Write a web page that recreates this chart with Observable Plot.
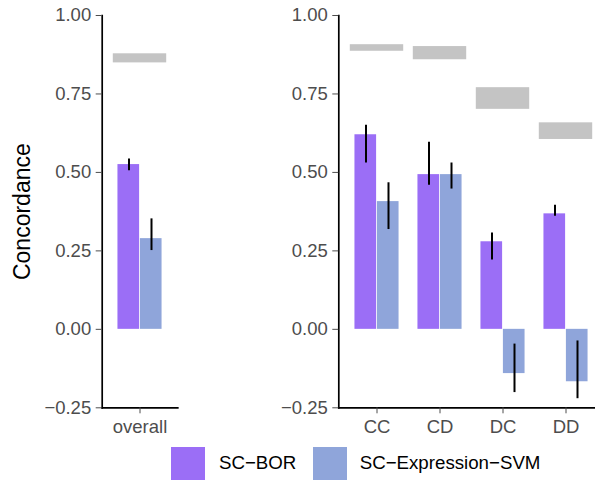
<!DOCTYPE html>
<html>
<head>
<meta charset="utf-8">
<script src="https://cdn.jsdelivr.net/npm/d3@7"></script>
<script src="https://cdn.jsdelivr.net/npm/@observablehq/plot@0.6"></script>
<style>
html, body { margin: 0; padding: 0; background: #fff; }
#wrap { position: relative; width: 595px; height: 480px; overflow: hidden; font-family: "Liberation Sans", Arial, sans-serif; background: #fff; }
#left, #right { position: absolute; top: 0; }
#left { left: 0; }
#right { left: 180px; }
#wrap svg { max-width: none; }
.key { position: absolute; top: 447px; width: 34px; height: 33px; }
.lab { position: absolute; top: 452px; font-size: 18.7px; line-height: 22px; color: #000; white-space: nowrap; }
</style>
</head>
<body>
<div id="wrap">
  <div id="left"></div>
  <div id="right"></div>
  <div id="legend"></div>
</div>
<script>
// ---- data ----
const methods = ["SC\u2212BOR", "SC\u2212Expression\u2212SVM"];
const colors = ["#9b6ef6", "#8fa5da"];
const yTicks = [-0.25, 0, 0.25, 0.5, 0.75, 1.0];

const overallCats = ["overall"];
const overallBor = [0.525];
const overallBorLo = [0.505];
const overallBorHi = [0.543];
const overallSvm = [0.289];
const overallSvmLo = [0.251];
const overallSvmHi = [0.352];
const overallRangeLo = [0.849];
const overallRangeHi = [0.878];

const typeCats = ["CC", "CD", "DC", "DD"];
const typeBor = [0.620, 0.493, 0.279, 0.368];
const typeBorLo = [0.530, 0.459, 0.221, 0.360];
const typeBorHi = [0.650, 0.596, 0.307, 0.395];
const typeSvm = [0.407, 0.493, -0.141, -0.167];
const typeSvmLo = [0.318, 0.447, -0.2015, -0.221];
const typeSvmHi = [0.467, 0.530, -0.047, -0.037];
const typeRangeLo = [0.886, 0.859, 0.701, 0.605];
const typeRangeHi = [0.907, 0.901, 0.770, 0.658];

const FONT = "'Liberation Sans', Arial, sans-serif";

function panel(cats, bor, borLo, borHi, svm, svmLo, svmHi, rLo, rHi, o) {
  const rows = cats.map((c, i) => ({
    cat: c, bor: bor[i], borLo: borLo[i], borHi: borHi[i],
    svm: svm[i], svmLo: svmLo[i], svmHi: svmHi[i], rLo: rLo[i], rHi: rHi[i]
  }));
  const marks = [
    Plot.barY(rows, {x: "cat", y1: "rLo", y2: "rHi", fill: "#c4c4c4", insetLeft: 4.8, insetRight: 4.8}),
    Plot.barY(rows, {x: "cat", y: "bor", fill: colors[0], insetLeft: 9.45, insetRight: 31.9}),
    Plot.barY(rows, {x: "cat", y: "svm", fill: colors[1], insetLeft: 31.9, insetRight: 9.45}),
    Plot.ruleX(rows, {x: "cat", y1: "borLo", y2: "borHi", dx: -11, stroke: "#000", strokeWidth: 2}),
    Plot.ruleX(rows, {x: "cat", y1: "svmLo", y2: "svmHi", dx: 11.5, stroke: "#000", strokeWidth: 2}),
    Plot.frame({anchor: "left", stroke: "#000", strokeWidth: 1.7}),
    Plot.frame({anchor: "bottom", stroke: "#000", strokeWidth: 1.7}),
    Plot.axisY({ticks: yTicks, tickFormat: d3.format(".2f"), tickSize: 6, tickPadding: 5, fontSize: 18.5, color: "#4d4d4d", label: null}),
    Plot.axisX({tickSize: 6, tickPadding: 6, fontSize: 18.5, color: "#4d4d4d", label: null})
  ];
  if (o.title) {
    marks.push(Plot.text([o.title], {text: d => d, frameAnchor: "left", rotate: -90, dx: -79.5, textAnchor: "middle", lineAnchor: "middle", fontSize: 23, fill: "#000"}));
  }
  return Plot.plot({
    width: o.width, height: 440,
    marginLeft: o.marginLeft, marginRight: o.marginRight, marginTop: 15, marginBottom: 32.7,
    style: {fontFamily: FONT, background: "transparent", overflow: "visible"},
    x: {type: "band", domain: cats, paddingInner: 0, paddingOuter: 0.1, align: 0.5, axis: null},
    y: {domain: [-0.25, 1.0], nice: false, axis: null},
    marks
  });
}

document.getElementById("left").appendChild(
  panel(overallCats, overallBor, overallBorLo, overallBorHi, overallSvm, overallSvmLo, overallSvmHi, overallRangeLo, overallRangeHi,
    {width: 180, marginLeft: 101.7, marginRight: 2.7, title: "Concordance"})
);
document.getElementById("right").appendChild(
  panel(typeCats, typeBor, typeBorLo, typeBorHi, typeSvm, typeSvmLo, typeSvmHi, typeRangeLo, typeRangeHi,
    {width: 423, marginLeft: 158.3, marginRight: 0})
);

// legend
const legend = document.getElementById("legend");
const keyX = [171, 312.5];
const labX = [219, 359.7];
methods.forEach((m, i) => {
  const k = document.createElement("div");
  k.className = "key";
  k.style.left = keyX[i] + "px";
  k.style.background = colors[i];
  legend.appendChild(k);
  const t = document.createElement("div");
  t.className = "lab";
  t.style.left = labX[i] + "px";
  t.textContent = m;
  legend.appendChild(t);
});
</script>
</body>
</html>
